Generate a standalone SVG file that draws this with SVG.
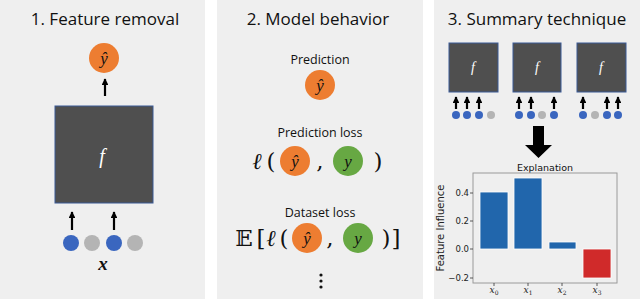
<svg xmlns="http://www.w3.org/2000/svg" width="640" height="299" viewBox="0 0 640 299">
<defs>
<style>
.panel{fill:#efefef}
.title{font-family:"Open Sans","Liberation Sans",sans-serif;font-size:17px;fill:#111;text-anchor:middle}
.lbl{font-family:"Open Sans","Liberation Sans",sans-serif;font-size:12.5px;fill:#111;text-anchor:middle}
.math{font-family:"Liberation Serif","DejaVu Serif",serif;font-style:italic;fill:#111;text-anchor:middle}
.big{font-family:"DejaVu Serif","Liberation Serif",serif;font-size:23px;fill:#111;text-anchor:middle}
.box{fill:#4f4f4f;stroke:#3b5a96;stroke-width:1}
.fx{font-family:"Liberation Serif",serif;font-style:italic;fill:#fff;text-anchor:middle}
.or{fill:#ed7d31}
.gr{fill:#67a843}
.bl{fill:#3a66bf}
.gy{fill:#b4b4b4}
.ar{stroke:#000;stroke-width:2.2;fill:none}
.tick{font-family:"DejaVu Sans",sans-serif;font-size:8.5px;fill:#222}
</style>
<marker id="ah" viewBox="0 0 10 10" refX="9" refY="5" markerWidth="3" markerHeight="3" orient="auto" markerUnits="strokeWidth">
<path d="M0,0 L10,5 L0,10 z" fill="#000"/>
</marker>
</defs>
<rect width="640" height="299" fill="#fff"/>
<rect class="panel" x="0" y="0" width="205" height="299"/>
<rect class="panel" x="217" y="0" width="206" height="299"/>
<rect class="panel" x="434" y="0" width="206" height="299"/>

<!-- Panel 1 -->
<g id="panel1">
<text class="title" x="105" y="25">1. Feature removal</text>
<g id="p1-yhat"><circle class="or" cx="104" cy="58" r="15"/><text class="math" x="104" y="64" font-size="17">ŷ</text></g>
<g id="p1-f"><rect class="box" x="55" y="106" width="98" height="97"/><text class="fx" x="102" y="163" font-size="20">f</text></g>
<g id="p1-x">
<circle class="bl" cx="71" cy="243" r="8"/>
<circle class="gy" cx="92" cy="243" r="8"/>
<circle class="bl" cx="114" cy="243" r="8"/>
<circle class="gy" cx="135" cy="243" r="8"/>
<text class="math" x="103" y="270" font-size="19" font-weight="bold">x</text>
</g>
</g>
<g id="p1-connectors">
<line class="ar" x1="105" y1="96" x2="105" y2="79" marker-end="url(#ah)"/>
<line class="ar" x1="72" y1="230" x2="72" y2="212" marker-end="url(#ah)"/>
<line class="ar" x1="114" y1="230" x2="114" y2="212" marker-end="url(#ah)"/>
</g>

<!-- Panel 2 -->
<g id="panel2">
<text class="title" x="318" y="25">2. Model behavior</text>
<g id="p2-pred">
<text class="lbl" x="320" y="64">Prediction</text>
<circle class="or" cx="320" cy="85" r="15"/><text class="math" x="320" y="91" font-size="17">ŷ</text>
</g>
<g id="p2-predloss">
<text class="lbl" x="320" y="137">Prediction loss</text>
<text class="big" x="257" y="169" font-style="italic">ℓ</text>
<text class="big" x="271" y="169">(</text>
<circle class="or" cx="295" cy="161" r="15"/><text class="math" x="295" y="167" font-size="17">ŷ</text>
<text class="big" x="320" y="169">,</text>
<circle class="gr" cx="348" cy="161" r="15"/><text class="math" x="348" y="167" font-size="17">y</text>
<text class="big" x="378" y="169">)</text>
</g>
<g id="p2-dataloss">
<text class="lbl" x="320" y="217">Dataset loss</text>
<text class="big" x="244" y="246">𝔼</text>
<text class="big" x="261" y="246">[</text>
<text class="big" x="271" y="246" font-style="italic">ℓ</text>
<text class="big" x="284" y="246">(</text>
<circle class="or" cx="307" cy="238" r="15"/><text class="math" x="307" y="244" font-size="17">ŷ</text>
<text class="big" x="330" y="246">,</text>
<circle class="gr" cx="358" cy="238" r="15"/><text class="math" x="358" y="244" font-size="17">y</text>
<text class="big" x="386" y="246">)</text>
<text class="big" x="396" y="246">]</text>
</g>
<g id="p2-dots" fill="#111">
<circle cx="321" cy="275" r="1.6"/><circle cx="321" cy="281" r="1.6"/><circle cx="321" cy="287" r="1.6"/>
</g>
</g>

<!-- Panel 3 -->
<g id="panel3">
<text class="title" x="537" y="25">3. Summary technique</text>
<g id="p3-f1"><rect class="box" x="449" y="43" width="49" height="49"/><text class="fx" x="473" y="72" font-size="14">f</text>
<circle class="bl" cx="456" cy="115" r="4"/><circle class="bl" cx="467" cy="115" r="4"/><circle class="bl" cx="479" cy="115" r="4"/><circle class="gy" cx="491" cy="115" r="4"/></g>
<g id="p3-f2"><rect class="box" x="513" y="43" width="48" height="49"/><text class="fx" x="537" y="72" font-size="14">f</text>
<circle class="bl" cx="519" cy="115" r="4"/><circle class="bl" cx="531" cy="115" r="4"/><circle class="gy" cx="542" cy="115" r="4"/><circle class="bl" cx="554" cy="115" r="4"/></g>
<g id="p3-f3"><rect class="box" x="577" y="43" width="49" height="49"/><text class="fx" x="601" y="72" font-size="14">f</text>
<circle class="bl" cx="583" cy="115" r="4"/><circle class="gy" cx="595" cy="115" r="4"/><circle class="bl" cx="607" cy="115" r="4"/><circle class="bl" cx="618" cy="115" r="4"/></g>
</g>
<g id="p3-connectors">
<line class="ar" stroke-width="1.8" x1="456" y1="109" x2="456" y2="97" marker-end="url(#ah)"/>
<line class="ar" stroke-width="1.8" x1="467" y1="109" x2="467" y2="97" marker-end="url(#ah)"/>
<line class="ar" stroke-width="1.8" x1="479" y1="109" x2="479" y2="97" marker-end="url(#ah)"/>
<line class="ar" stroke-width="1.8" x1="519" y1="109" x2="519" y2="97" marker-end="url(#ah)"/>
<line class="ar" stroke-width="1.8" x1="531" y1="109" x2="531" y2="97" marker-end="url(#ah)"/>
<line class="ar" stroke-width="1.8" x1="554" y1="109" x2="554" y2="97" marker-end="url(#ah)"/>
<line class="ar" stroke-width="1.8" x1="583" y1="109" x2="583" y2="97" marker-end="url(#ah)"/>
<line class="ar" stroke-width="1.8" x1="607" y1="109" x2="607" y2="97" marker-end="url(#ah)"/>
<line class="ar" stroke-width="1.8" x1="618" y1="109" x2="618" y2="97" marker-end="url(#ah)"/>
<path d="M533,126 H544 V145 H552 L538.5,158 L525,145 H533 Z" fill="#000"/>
</g>

<!-- Chart -->
<g id="chart">
<text x="545" y="171" font-family="DejaVu Sans,sans-serif" font-size="9.5" fill="#111" text-anchor="middle">Explanation</text>
<rect x="473" y="173" width="144" height="110" fill="none" stroke="#9a9a9a" stroke-width="1"/>
<g stroke="#fff" stroke-width="0.8">
<rect x="480" y="192" width="28" height="57" fill="#2166ac"/>
<rect x="514" y="178" width="28" height="71" fill="#2166ac"/>
<rect x="549" y="242" width="27" height="7" fill="#2166ac"/>
<rect x="583" y="249" width="28" height="29" fill="#d02a2a"/>
</g>
<g stroke="#333" stroke-width="0.8">
<line x1="470" y1="193" x2="473" y2="193"/><line x1="470" y1="221" x2="473" y2="221"/><line x1="470" y1="249" x2="473" y2="249"/><line x1="470" y1="278" x2="473" y2="278"/>
<line x1="494" y1="283" x2="494" y2="286"/><line x1="528" y1="283" x2="528" y2="286"/><line x1="562" y1="283" x2="562" y2="286"/><line x1="597" y1="283" x2="597" y2="286"/>
</g>
<g class="tick" text-anchor="end">
<text x="469" y="196">0.4</text><text x="469" y="224">0.2</text><text x="469" y="252">0.0</text><text x="469" y="281">−0.2</text>
</g>
<g font-family="DejaVu Serif,serif" font-style="italic" font-size="9" fill="#222" text-anchor="middle">
<text x="494" y="293">x<tspan font-size="6" dy="2" font-style="normal">0</tspan></text>
<text x="528" y="293">x<tspan font-size="6" dy="2" font-style="normal">1</tspan></text>
<text x="562" y="293">x<tspan font-size="6" dy="2" font-style="normal">2</tspan></text>
<text x="597" y="293">x<tspan font-size="6" dy="2" font-style="normal">3</tspan></text>
</g>
<text transform="translate(444,228) rotate(-90)" font-family="DejaVu Sans,sans-serif" font-size="10" fill="#222" text-anchor="middle">Feature Influence</text>
</g>
</svg>
